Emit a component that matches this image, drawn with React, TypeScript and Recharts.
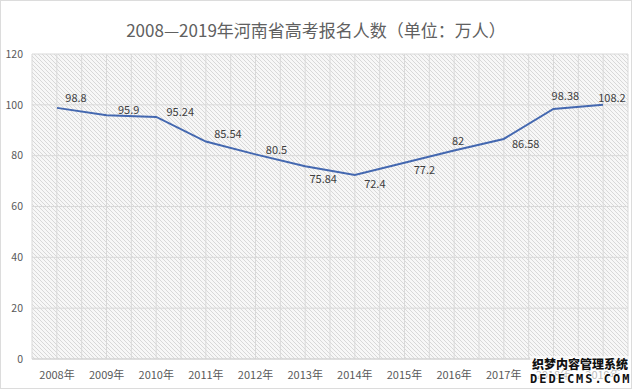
import React from "react";
import { LineChart, Line, XAxis, YAxis, CartesianGrid, LabelList } from "recharts";

const years = ["2008年", "2009年", "2010年", "2011年", "2012年", "2013年", "2014年", "2015年", "2016年", "2017年", "2018年", "2019年"];
const applicants = [98.8, 95.9, 95.24, 85.54, 80.5, 75.84, 72.4, 77.2, 82, 86.58, 98.38, 100];
const labelTexts = ["98.8", "95.9", "95.24", "85.54", "80.5", "75.84", "72.4", "77.2", "82", "86.58", "98.38", "108.2"];
const yTicks = [0, 20, 40, 60, 80, 100, 120];

const data = years.map((year, i) => ({ year, value: applicants[i], label: labelTexts[i] }));

// label placement relative to each point (dx, dy)
const labelOffsets: [number, number][] = [
  [19, -11], [22, -6], [24, -6], [22, -9], [21, -5], [18, 12],
  [20, 8], [20, 6], [4, -11], [22, 4], [12, -14], [9, -8],
];

const FONT = '"Noto Sans CJK SC", "Microsoft YaHei", sans-serif';

function PointLabel(props: any) {
  const { x, y, index } = props;
  const [dx, dy] = labelOffsets[index] || [0, -10];
  return (
    <text
      x={x + dx}
      y={y + dy}
      textAnchor="middle"
      dominantBaseline="central"
      fontSize={11}
      fontFamily={FONT}
      fill="#404040"
    >
      {labelTexts[index]}
    </text>
  );
}

function App() {
  const verticalLines = ({ offset }: any) => {
    const out: number[] = [];
    const step = offset.width / (years.length * 2);
    for (let i = 0; i <= years.length * 2; i++) out.push(offset.left + i * step);
    return out;
  };

  return (
    <div style={{ position: "absolute", left: 0, top: 0, width: 640, height: 391, background: "#fff" }}>
      <svg width={0} height={0} style={{ position: "absolute" }}>
        <defs>
          <pattern id="hatch" width={4} height={4} patternUnits="userSpaceOnUse">
            <rect width={4} height={4} fill="#f7f7f7" />
            <path d="M0,0 L4,4 M-1,3 L1,5 M3,-1 L5,1" stroke="#d8d8d8" strokeWidth={1} />
          </pattern>
        </defs>
      </svg>
      <div
        style={{
          position: "absolute",
          left: 0,
          top: 0,
          width: 632,
          height: 389,
          border: "1px solid #dcdcdc",
          boxSizing: "border-box",
        }}
      />
      <div
        style={{
          position: "absolute",
          left: 0,
          top: 19,
          width: 632,
          textAlign: "center",
          fontFamily: FONT,
          fontSize: 17,
          color: "#606060",
          lineHeight: "22px",
        }}
      >
        2008—2019年河南省高考报名人数（单位：万人）
      </div>
      <div style={{ position: "absolute", left: 0, top: 0 }}>
        <LineChart width={640} height={391} data={data} margin={{ top: 54, right: 12, bottom: 0, left: 0 }}>
          <CartesianGrid
            stroke="#d9d9d9"
            fill="url(#hatch)"
            verticalCoordinatesGenerator={verticalLines}
          />
          <XAxis
            dataKey="year"
            height={32}
            padding={{ left: 25, right: 25 }}
            tickLine={false}
            axisLine={{ stroke: "#d0d0d0" }}
            tickMargin={6}
            tick={{ fontSize: 11, fill: "#595959", fontFamily: FONT }}
            interval={0}
          />
          <YAxis
            width={32}
            domain={[0, 120]}
            ticks={yTicks}
            tickLine={false}
            axisLine={false}
            tickMargin={3}
            tick={{ fontSize: 10.5, fill: "#595959", fontFamily: FONT }}
          />
          <Line
            type="linear"
            dataKey="value"
            stroke="#4468b0"
            strokeWidth={2}
            dot={false}
            isAnimationActive={false}
          >
            <LabelList dataKey="label" content={<PointLabel />} />
          </Line>
        </LineChart>
      </div>
      <div
        style={{
          position: "absolute",
          left: 530,
          top: 356,
          width: 100,
          fontFamily: FONT,
          fontWeight: 900,
          color: "#111",
          textAlign: "center",
          background: "rgba(255,255,255,0.6)",
          textShadow: "1px 0 #fff, -1px 0 #fff, 0 1px #fff, 0 -1px #fff",
        }}
      >
        <div style={{ fontSize: 12, lineHeight: "15px" }}>织梦内容管理系统</div>
        <div style={{ fontSize: 12, lineHeight: "16px", letterSpacing: 2, fontFamily: "DejaVu Sans Mono, monospace" }}>
          DEDECMS.COM
        </div>
      </div>
    </div>
  );
}

export default App;
